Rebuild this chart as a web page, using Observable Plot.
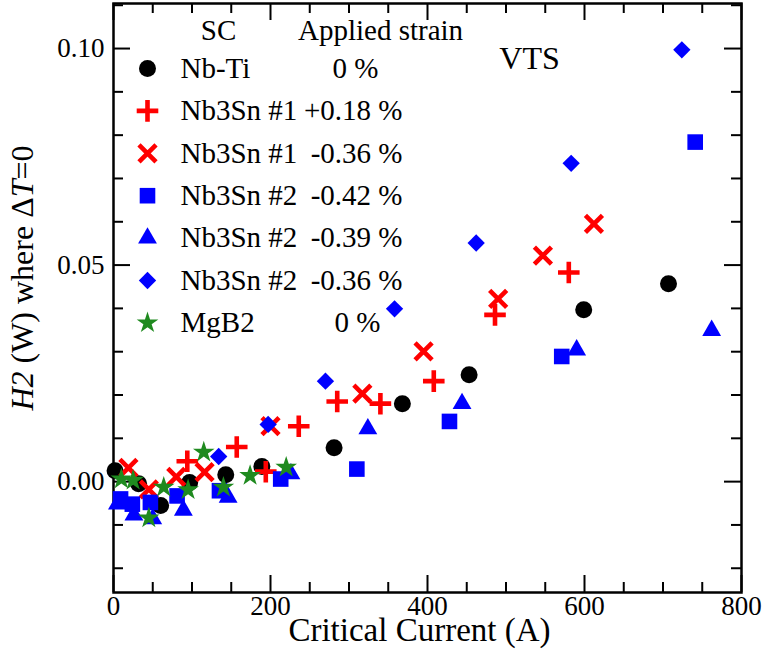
<!DOCTYPE html>
<html><head><meta charset="utf-8">
<script src="https://cdn.jsdelivr.net/npm/d3@7"></script>
<script src="https://cdn.jsdelivr.net/npm/@observablehq/plot@0.6"></script>
<style>body{margin:0;background:#fff} svg{display:block}</style>
</head><body><div id="chart"></div>
<script>
// ---- data (Critical current in A, H2 in W) ----
const seriesNames = ["Nb-Ti", "Nb3Sn #1", "Nb3Sn #1", "Nb3Sn #2", "Nb3Sn #2", "Nb3Sn #2", "MgB2"];
const seriesStrains = ["0 %", "+0.18 %", "-0.36 %", "-0.42 %", "-0.39 %", "-0.36 %", "0 %"];

const nbTi = [[2,0.0025],[32,-0.0005],[60,-0.0055],[97,-0.0002],[143,0.0016],[189,0.0035],[281,0.0078],[368,0.018],[453,0.0247],[599,0.0397],[707,0.0457]];
const nb3sn1Plus018 = [[94,0.0047],[157,0.008],[194,0.0023],[236,0.0128],[285,0.0185],[340,0.018],[408,0.0232],[486,0.0385],[580,0.0483]];
const nb3sn1Minus036 = [[19,0.0032],[45,-0.0018],[80,0.0011],[116,0.0022],[200,0.0128],[317,0.0203],[395,0.0301],[490,0.0422],[547,0.0522],[612,0.0595]];
const nb3sn2Minus042 = [[9,-0.004],[24,-0.0052],[47,-0.0048],[81,-0.0033],[135,-0.0021],[213,0.0006],[310,0.0029],[428,0.0139],[571,0.0289],[741,0.0784]];
const nb3sn2Minus039 = [[5,-0.0052],[26,-0.0077],[50,-0.0086],[89,-0.0066],[146,-0.0036],[226,0.0018],[324,0.0122],[444,0.018],[590,0.0304],[762,0.0349]];
const nb3sn2Minus036 = [[134,0.0058],[197,0.0132],[270,0.0232],[358,0.0399],[462,0.0551],[583,0.0735],[724,0.0997]];
const mgb2 = [[10,0.0006],[25,0.0003],[45,-0.0084],[64,-0.0013],[95,-0.0019],[115,0.0068],[140,-0.0013],[174,0.0014],[220,0.0033]];

const xMajor = [0, 200, 400, 600, 800];
const xMinor = [50,100,150,250,300,350,450,500,550,650,700,750];
const yMajor = [0, 0.05, 0.10];
const yMinor = [-0.02,-0.01,0.01,0.02,0.03,0.04,0.06,0.07,0.08,0.09,0.11];

const xLabel = "Critical Current (A)";
const yLabel = "H2 (W) where \u0394T=0";
const headerSC = "SC";
const headerStrain = "Applied strain";
const note = "VTS";

// ---- styles ----
const seriesData = [nbTi, nb3sn1Plus018, nb3sn1Minus036, nb3sn2Minus042, nb3sn2Minus039, nb3sn2Minus036, mgb2];
const styles = [
  {symbol: "circle",   color: "#000000", r: 8.5, filled: true,  strainX: 265},
  {symbol: "plus",     color: "#ff0000", r: 7.0, filled: false, strainX: 289},
  {symbol: "times",    color: "#ff0000", r: 7.8, filled: false, strainX: 289},
  {symbol: "square",   color: "#0000ff", r: 8.8, filled: true,  strainX: 289},
  {symbol: "triangle", color: "#0000ff", r: 7.0, filled: true,  strainX: 289},
  {symbol: "diamond2", color: "#0000ff", r: 7.8, filled: true,  strainX: 289},
  {symbol: "star",     color: "#1f8a1f", r: 6.8, filled: true,  strainX: 267}
];

const W = 766, H = 651;
const mL = 113, mR = 25, mT = 3, mB = 59;
const fw = W - mL - mR, fh = H - mT - mB;

function symOpts(s) {
  return {
    symbol: s.symbol, r: s.r,
    fill: s.filled ? s.color : "none",
    stroke: s.filled ? "none" : s.color,
    strokeWidth: s.filled ? 0 : 4.6,
    strokeLinecap: "butt"
  };
}

const marks = [];
// ticks (inward, on all four sides)
marks.push(Plot.ruleX(xMinor, {insetTop: fh - 10, strokeWidth: 2}));
marks.push(Plot.ruleX(xMinor, {insetBottom: fh - 10, strokeWidth: 2}));
marks.push(Plot.ruleX(xMajor, {insetTop: fh - 17, strokeWidth: 2}));
marks.push(Plot.ruleX(xMajor, {insetBottom: fh - 17, strokeWidth: 2}));
marks.push(Plot.ruleY(yMinor, {insetRight: fw - 10, strokeWidth: 2}));
marks.push(Plot.ruleY(yMinor, {insetLeft: fw - 10, strokeWidth: 2}));
marks.push(Plot.ruleY(yMajor, {insetRight: fw - 17, strokeWidth: 2}));
marks.push(Plot.ruleY(yMajor, {insetLeft: fw - 17, strokeWidth: 2}));
marks.push(Plot.frame({strokeWidth: 2.5}));

// axes labels
marks.push(Plot.axisX(xMajor, {tickSize: 0, tickPadding: 3, fontSize: 27, label: null, tickFormat: d => String(d)}));
marks.push(Plot.axisY(yMajor, {tickSize: 0, tickPadding: 9, fontSize: 27, label: null, tickFormat: d3.format(".2f")}));
marks.push(Plot.text([xLabel], {frameAnchor: "bottom", lineAnchor: "middle", textAnchor: "middle", dy: 38, dx: -8, fontSize: 33}));
marks.push(Plot.text([yLabel], {frameAnchor: "left", lineAnchor: "middle", textAnchor: "middle", rotate: -90, dx: -91, dy: -20, fontSize: 32}));

// data
seriesData.forEach((data, i) => {
  marks.push(Plot.dot(data, {x: d => d[0], y: d => d[1], ...symOpts(styles[i])}));
});

// legend
const lt = {frameAnchor: "top-left", lineAnchor: "middle"};
marks.push(Plot.text([headerSC], {...lt, dx: 105, dy: 27, fontSize: 29, textAnchor: "middle"}));
marks.push(Plot.text([headerStrain], {...lt, dx: 267, dy: 27, fontSize: 29, textAnchor: "middle"}));
marks.push(Plot.text([note], {...lt, dx: 416, dy: 55, fontSize: 32, textAnchor: "middle"}));
seriesNames.forEach((name, i) => {
  const dy = 65 + i * 42.4;
  marks.push(Plot.dot([name], {frameAnchor: "top-left", dx: 34, dy, ...symOpts(styles[i])}));
  marks.push(Plot.text([name], {...lt, dx: 67, dy, fontSize: 29, textAnchor: "start"}));
  marks.push(Plot.text([seriesStrains[i]], {...lt, dx: styles[i].strainX, dy, fontSize: 29, textAnchor: "end"}));
});

const chart = Plot.plot({
  width: W, height: H,
  marginLeft: mL, marginRight: mR, marginTop: mT, marginBottom: mB,
  x: {domain: [0, 800], axis: null},
  y: {domain: [-0.0256, 0.1104], axis: null},
  style: {fontFamily: "'Liberation Serif', 'Times New Roman', serif", color: "black", background: "white", overflow: "visible"},
  marks
});

// italic H2 and T in the y label
d3.select(chart).selectAll("text").each(function() {
  if (this.textContent === yLabel) {
    const t = d3.select(this);
    t.text(null);
    t.append("tspan").attr("font-style", "italic").text("H2");
    t.append("tspan").text(" (W) where \u0394");
    t.append("tspan").attr("font-style", "italic").text("T");
    t.append("tspan").text("=0");
  }
});

document.getElementById("chart").appendChild(chart);
</script>
</body></html>
